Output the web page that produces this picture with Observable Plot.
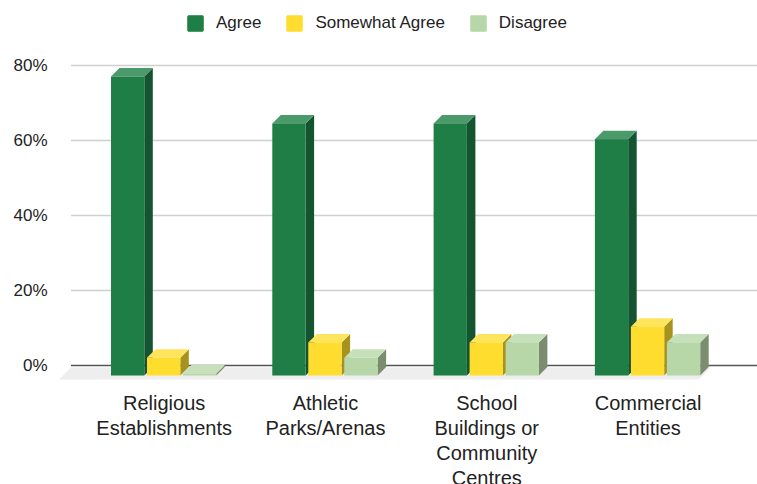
<!DOCTYPE html>
<html>
<head>
<meta charset="utf-8">
<script src="https://cdn.jsdelivr.net/npm/d3@7"></script>
<script src="https://cdn.jsdelivr.net/npm/@observablehq/plot@0.6"></script>
<style>
  html, body { margin: 0; padding: 0; background: #fff; }
  body { width: 757px; height: 484px; overflow: hidden; font-family: "Liberation Sans", Arial, sans-serif; }
  #legend { height: 44px; box-sizing: border-box; padding-left: 187px; padding-top: 14px; display: flex; align-items: flex-start; }
  .item { display: flex; align-items: center; margin-right: 25px; height: 18px; }
  .sw { width: 17px; height: 17px; border-radius: 2px; margin-right: 12px; box-sizing: border-box; }
  .lbl { font-size: 17px; color: #222; line-height: 18px; white-space: nowrap; }
  svg { display: block; }
</style>
</head>
<body>
<div id="legend"></div>
<div id="chart"></div>
<script>
// ---- data ----
const categories = ["Religious Establishments", "Athletic Parks/Arenas", "School Buildings or Community Centres", "Commercial Entities"];
const categoryLabels = ["Religious\nEstablishments", "Athletic\nParks/Arenas", "School\nBuildings or\nCommunity\nCentres", "Commercial\nEntities"];
const seriesNames = ["Agree", "Somewhat Agree", "Disagree"];
const agree = [79.2, 66.7, 66.7, 62.5];
const somewhatAgree = [4.2, 8.3, 8.3, 12.5];
const disagree = [0, 4.2, 8.3, 8.3];
const yTicks = [0, 20, 40, 60, 80];

// ---- styles ----
const frontColors = ["#1f7e45", "#ffdd2e", "#b7d7a8"];
const topColors   = ["#4b9a6a", "#ffe55c", "#c6e0b9"];
const sideColors  = ["#155430", "#a8921e", "#7b8d6f"];
const floorColor = "#eeeeee";
const seriesValues = [agree, somewhatAgree, disagree];

// legend
const legend = document.getElementById("legend");
seriesNames.forEach((s, i) => {
  const it = document.createElement("div"); it.className = "item";
  const sw = document.createElement("div"); sw.className = "sw";
  sw.style.background = frontColors[i];
  sw.style.border = "1px solid " + topColors[i];
  const lb = document.createElement("div"); lb.className = "lbl"; lb.textContent = s;
  it.appendChild(sw); it.appendChild(lb); legend.appendChild(it);
});

// layout constants
const W = 757, H = 440;
const ML = 83, MR = 28.8, MT = 21, MB = 119;
const bw = (W - ML - MR) / categories.length;
const barW = 33.3, stride = 36, D = 8.5;
const off = (bw - (2 * stride + barW)) / 2;

const marks = [];
// floor
marks.push(Plot.ruleY([0], {stroke: floorColor, strokeWidth: 12, dy: 8, insetLeft: -18, insetRight: 23.3}));
// grid lines
marks.push(Plot.ruleY(yTicks.filter(d => d > 0), {stroke: "#d0d0d0", strokeWidth: 1.3, insetLeft: -12, insetRight: -29}));
// zero line
marks.push(Plot.ruleY([0], {stroke: "#555", strokeWidth: 1.4, insetLeft: -12, insetRight: -29}));

seriesNames.forEach((s, i) => {
  const rows = categories.map((c, j) => ({category: c, series: s, value: seriesValues[i][j]}));
  const L = off + i * stride;
  const R = bw - (L + barW);
  // side face
  marks.push(Plot.barY(rows, {x: "category", y: "value", fill: sideColors[i], insetLeft: L + barW, insetRight: R - D, insetBottom: -2, dy: D}));
  // top face
  marks.push(Plot.barY(rows, {x: "category", y1: "value", y2: "value", fill: topColors[i], insetLeft: L, insetRight: R, insetBottom: -D}));
  // front face
  marks.push(Plot.barY(rows, {x: "category", y: "value", fill: frontColors[i], insetLeft: L, insetRight: R, insetBottom: -2, dy: D}));
});

// category labels
marks.push(Plot.text(categories, {x: d => d, text: (d, i) => categoryLabels[i], frameAnchor: "bottom", lineAnchor: "top", dy: 27, fontSize: 20, lineHeight: 1.25, fill: "#222"}));

const svg = Plot.plot({
  width: W, height: H,
  marginLeft: ML, marginRight: MR, marginTop: MT, marginBottom: MB,
  style: {fontFamily: "'Liberation Sans', Arial, sans-serif", fontSize: "17px", color: "#222", background: "transparent", overflow: "visible"},
  x: {domain: categories, padding: 0, round: false, axis: null},
  y: {domain: [0, 80], ticks: yTicks, tickFormat: d => d + "%", tickSize: 0, tickPadding: 36, label: null},
  marks
});

// 3D skewing of faces (faces identified by their constant fill)
const sel = d3.select(svg);
const norm = c => d3.color(c).formatHex();
const topSet = new Set(topColors.map(norm));
const sideSet = new Set(sideColors.map(norm));
sel.selectAll("g").each(function () {
  const g = d3.select(this);
  const f = g.attr("fill"), st = g.attr("stroke");
  let fh = null, sh = null;
  try { if (f && f !== "none" && f !== "currentColor") fh = norm(f); } catch (e) {}
  try { if (st && st !== "none" && st !== "currentColor") sh = norm(st); } catch (e) {}
  if (fh && topSet.has(fh)) {
    g.selectAll("rect").each(function () {
      const r = d3.select(this);
      const yb = +r.attr("y") + +r.attr("height");
      const t = r.attr("transform") || "";
      r.attr("transform", t + ` matrix(1,0,-1,1,${yb},0)`);
    });
  } else if (fh && sideSet.has(fh)) {
    g.selectAll("rect").each(function () {
      const r = d3.select(this);
      const x1 = +r.attr("x");
      const t = r.attr("transform") || "";
      r.attr("transform", t + ` matrix(1,-1,0,1,0,${x1})`);
    });
  } else if (sh && sh === norm(floorColor)) {
    g.selectAll("line").each(function () {
      const l = d3.select(this);
      const yc = +l.attr("y1");
      const t = l.attr("transform") || "";
      l.attr("transform", t + ` matrix(1,0,-1,1,${yc},0)`);
    });
  }
});

document.getElementById("chart").appendChild(svg);
</script>
</body>
</html>
